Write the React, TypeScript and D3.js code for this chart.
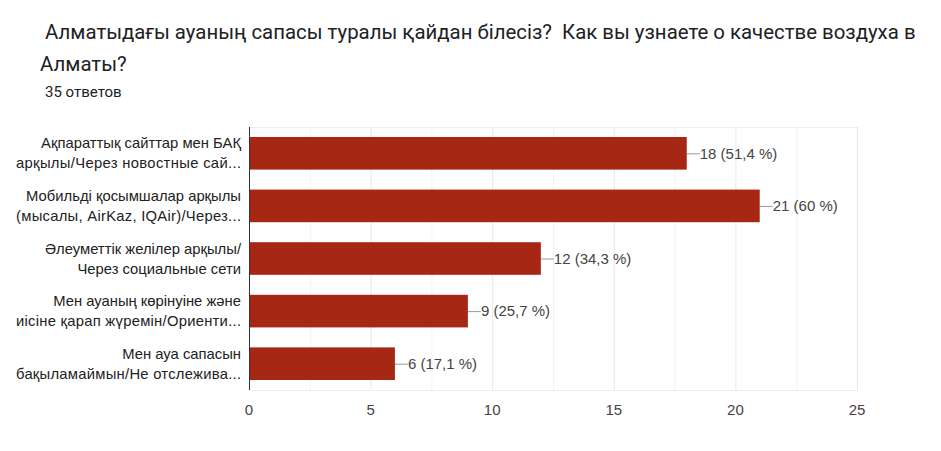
import { useEffect, useRef } from "react";
import * as d3 from "d3";

const titleLines = [
  " Алматыдағы ауаның сапасы туралы қайдан білесіз?  Как вы узнаете о качестве воздуха в",
  "Алматы?",
];
const subtitle = "35 ответов";

const categories = [
  ["Ақпараттық сайттар мен БАҚ", "арқылы/Через новостные сай..."],
  ["Мобильді қосымшалар арқылы", "(мысалы, AirKaz, IQAir)/Через..."],
  ["Әлеуметтік желілер арқылы/", "Через социальные сети"],
  ["Мен ауаның көрінуіне және", "иісіне қарап жүремін/Ориенти..."],
  ["Мен ауа сапасын", "бақыламаймын/Не отслежива..."],
];
const counts = [18, 21, 12, 9, 6];
const percents = ["51,4", "60", "34,3", "25,7", "17,1"];
const ticks = [0, 5, 10, 15, 20, 25];
const gridTicks = [0, 2.5, 5, 7.5, 10, 12.5, 15, 17.5, 20, 22.5, 25];

const App = () => {
  const svgRef = useRef<SVGSVGElement>(null);

  useEffect(() => {
    const svg = d3.select(svgRef.current);
    svg.selectAll("*").remove();

    const left = 249, right = 857, top = 127, bottom = 390;
    const labelRight = 241, labelWidth = 225;
    const x = d3.scaleLinear().domain([0, 25]).range([left, right]);
    const y = d3.scaleBand<number>()
      .domain(counts.map((d, i) => i))
      .range([top, bottom])
      .paddingInner(0.38)
      .paddingOuter(0.19);

    // title
    const t = svg.append("g").attr("font-family", "Roboto, sans-serif").attr("fill", "#202124");
    t.selectAll("text.title")
      .data(titleLines)
      .join("text")
      .attr("class", "title")
      .attr("x", 40)
      .attr("y", (d, i) => 39 + i * 32)
      .attr("font-size", 20.4)
      .style("white-space", "pre")
      .text(d => d);
    t.append("text").attr("x", 45).attr("y", 97).attr("font-size", 15).text(subtitle);

    // gridlines
    svg.append("g")
      .selectAll("line")
      .data(gridTicks)
      .join("line")
      .attr("x1", d => x(d) + 0.5)
      .attr("x2", d => x(d) + 0.5)
      .attr("y1", top)
      .attr("y2", bottom)
      .attr("stroke", d => (d % 5 === 0 ? "#e8e8e8" : "#f2f2f2"));
    svg.append("line")
      .attr("x1", left).attr("x2", right)
      .attr("y1", top + 0.5).attr("y2", top + 0.5)
      .attr("stroke", "#eeeeee");
    svg.append("line")
      .attr("x1", left).attr("x2", right)
      .attr("y1", bottom + 0.5).attr("y2", bottom + 0.5)
      .attr("stroke", "#eeeeee");

    // bars
    svg.append("g")
      .selectAll("rect")
      .data(counts)
      .join("rect")
      .attr("x", x(0))
      .attr("y", (d, i) => y(i)!)
      .attr("width", d => x(d) - x(0))
      .attr("height", y.bandwidth())
      .attr("fill", "#a52714");

    // axis line
    svg.append("line")
      .attr("x1", left + 0.5).attr("x2", left + 0.5)
      .attr("y1", top).attr("y2", bottom)
      .attr("stroke", "#333333");

    // value labels
    const lbl = svg.append("g").attr("font-family", "Arial, 'Liberation Sans', sans-serif").attr("font-size", 15);
    counts.forEach((d, i) => {
      const cy = y(i)! + y.bandwidth() / 2;
      lbl.append("line")
        .attr("x1", x(d)).attr("x2", x(d) + 13)
        .attr("y1", cy + 0.5).attr("y2", cy + 0.5)
        .attr("stroke", "#999999");
      lbl.append("text")
        .attr("x", x(d) + 13)
        .attr("y", cy)
        .attr("dy", "0.35em")
        .attr("fill", "#444444")
        .text(`${d} (${percents[i]} %)`);
    });

    // category labels (truncated lines fill the whole label column)
    const cat = svg.append("g").attr("font-family", "Arial, 'Liberation Sans', sans-serif").attr("font-size", 14.8).attr("fill", "#222222").attr("text-anchor", "end");
    categories.forEach((lines, i) => {
      const cy = y(i)! + y.bandwidth() / 2;
      lines.forEach((s, j) => {
        const el = cat.append("text")
          .attr("x", labelRight)
          .attr("y", cy - 10 + j * 20)
          .attr("dy", "0.35em")
          .text(s);
        if (s.endsWith("...")) {
          el.attr("textLength", labelWidth).attr("lengthAdjust", "spacing");
        }
      });
    });

    // x tick labels
    svg.append("g")
      .attr("font-family", "Arial, 'Liberation Sans', sans-serif")
      .attr("font-size", 15)
      .attr("fill", "#444444")
      .attr("text-anchor", "middle")
      .selectAll("text")
      .data(ticks)
      .join("text")
      .attr("x", d => x(d))
      .attr("y", 415)
      .text(d => d);

    return () => {
      svg.selectAll("*").remove();
    };
  }, []);

  return (
    <div style={{ margin: "-8px" }}>
      <svg ref={svgRef} width={941} height={451} style={{ display: "block", background: "#fff" }}></svg>
    </div>
  );
};

export default App;
